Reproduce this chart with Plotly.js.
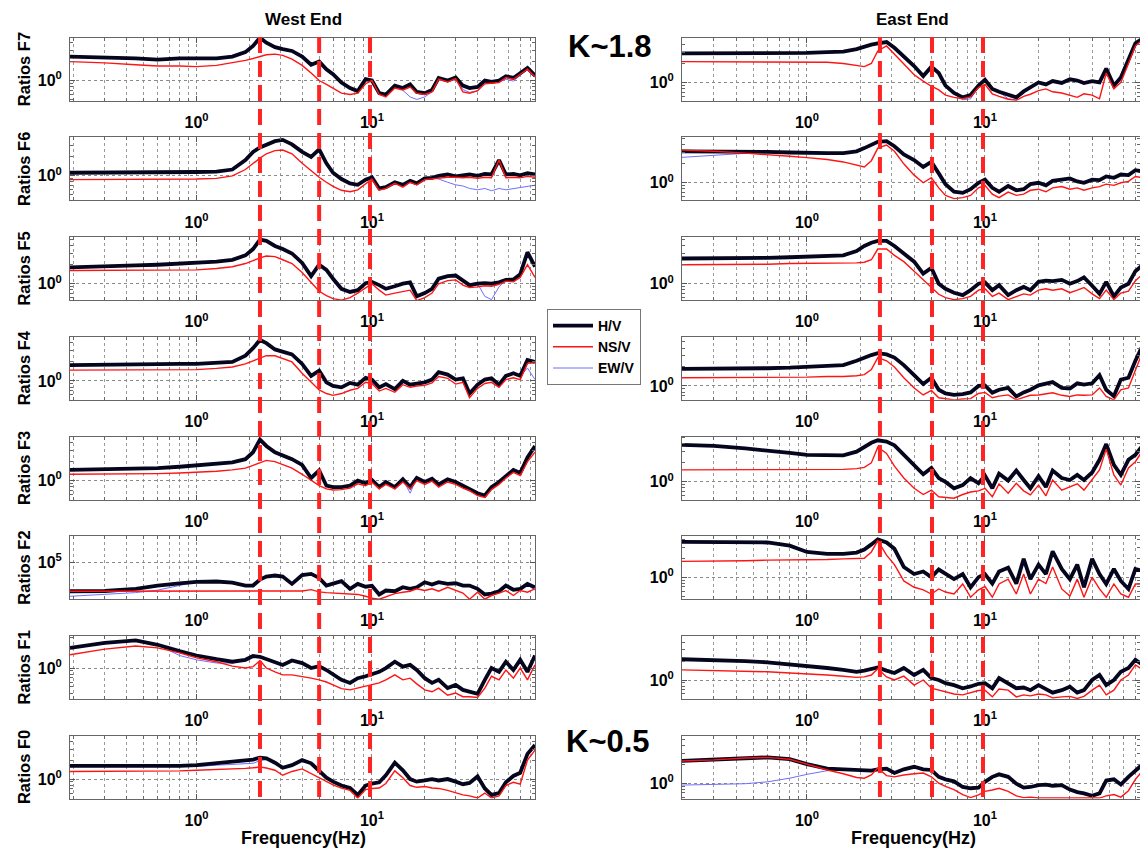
<!DOCTYPE html>
<html>
<head>
<meta charset="utf-8">
<script src="https://cdn.plot.ly/plotly-3.0.1.min.js"></script>
<style>html,body{margin:0;padding:0;background:#fff;}#chart{width:1140px;height:851px;}</style>
</head>
<body>
<div id="chart"></div>
<script>
// ---------------- DATA ----------------
const freq = [0.19,0.3,0.45,0.6,0.8,1.0,1.3,1.6,1.9,2.1,2.3,2.5,2.8,3.1,3.5,4.0,4.5,5.0,5.5,6.0,6.7,7.5,8.3,9.2,10,11,12,13.5,15,16.5,18,20,22,24,27,30,33,36,40,44,48,53,58,64,70,77,85];

const rowNames = ['F7','F6','F5','F4','F3','F2','F1','F0'];
const peakFreqWest = [2.3, 5.0, 9.75];
const peakFreqEast = [2.57, 5.04, 9.75];
const seriesNames = ['H/V','NS/V','EW/V'];
const xTickLabels = ['10<sup>0</sup>', '10<sup>1</sup>'];
const yTickLabel = '10<sup>0</sup>';
const yTickLabelF2 = '10<sup>5</sup>';

// West End
const westF7_hv = [2.40,2.34,2.24,2.14,2.24,2.24,2.24,2.40,2.82,3.55,4.79,3.98,3.39,3.16,2.95,2.40,1.78,2.00,1.51,1.26,0.93,0.76,0.68,1.05,1.00,0.63,0.60,0.83,0.76,0.87,0.66,0.63,0.71,1.10,1.00,1.12,0.83,0.76,0.79,1.00,0.95,1.00,1.17,1.10,1.32,1.58,1.20];
const westF7_ns = [2.00,1.91,1.78,1.70,1.70,1.66,1.74,1.91,2.09,2.24,2.40,2.57,2.63,2.51,2.19,1.74,1.32,1.00,0.87,0.76,0.63,0.60,0.63,0.89,1.00,0.60,0.55,0.76,0.71,0.79,0.63,0.60,0.66,1.05,0.95,1.07,0.66,0.63,0.69,0.89,0.91,0.93,1.12,1.05,1.26,1.51,1.15];
const westF7_ew = [2.40,2.34,2.24,2.14,2.24,2.24,2.24,2.40,2.82,3.55,4.68,3.98,3.39,3.16,2.95,2.40,1.78,2.00,1.51,1.26,0.93,0.76,0.68,1.05,1.00,0.63,0.60,0.83,0.70,0.55,0.50,0.55,0.66,1.07,0.98,1.10,0.72,0.65,0.68,0.95,0.91,0.95,1.05,0.98,1.20,1.50,1.12];

const westF6_hv = [1.12,1.12,1.12,1.12,1.12,1.15,1.17,1.26,1.78,2.40,2.82,3.16,3.55,3.72,3.16,2.40,2.00,2.63,1.58,1.12,0.89,0.76,0.72,0.87,0.95,0.63,0.66,0.79,0.72,0.83,0.76,0.91,0.93,1.00,1.05,0.98,1.02,1.05,1.00,1.07,1.05,1.78,1.05,1.07,1.02,1.10,1.05];
const westF6_ns = [0.87,0.87,0.87,0.87,0.87,0.89,0.91,1.00,1.26,1.58,1.91,2.24,2.51,2.57,2.24,1.58,1.20,0.95,0.79,0.68,0.59,0.56,0.60,0.76,0.89,0.59,0.63,0.76,0.66,0.79,0.72,0.87,0.89,0.93,0.95,0.95,0.93,0.95,0.91,0.95,0.93,1.78,0.93,0.95,0.93,0.98,0.95];
const westF6_ew = [1.12,1.12,1.12,1.12,1.12,1.15,1.17,1.26,1.78,2.40,2.82,3.16,3.55,3.72,3.16,2.40,2.00,2.63,1.58,1.12,0.89,0.76,0.72,0.87,0.95,0.63,0.66,0.79,0.72,0.83,0.76,0.91,0.93,0.89,0.79,0.72,0.69,0.63,0.60,0.63,0.58,0.63,0.60,0.63,0.66,0.69,0.71];

const westF5_hv = [1.82,1.86,1.95,2.00,2.09,2.14,2.24,2.40,2.82,3.55,5.01,4.79,3.98,3.55,3.02,2.14,1.32,2.00,1.66,1.20,0.83,0.74,0.79,1.02,1.07,0.95,0.83,0.91,1.00,1.05,0.63,0.71,0.83,1.20,1.32,1.35,1.12,0.95,1.00,1.02,1.00,1.05,1.15,1.17,1.41,3.16,1.86];
const westF5_ns = [1.62,1.62,1.62,1.62,1.62,1.66,1.74,1.86,2.09,2.34,2.57,2.75,2.69,2.40,2.09,1.51,1.05,0.76,0.65,0.58,0.55,0.60,0.71,0.87,1.00,0.79,0.66,0.71,0.76,0.79,0.54,0.60,0.71,1.00,1.12,1.15,0.95,0.87,0.89,0.93,0.91,0.98,1.10,1.07,1.26,2.00,1.26];
const westF5_ew = [1.82,1.86,1.95,2.00,2.09,2.14,2.24,2.40,2.82,3.55,5.01,4.79,3.98,3.55,3.02,2.14,1.32,2.00,1.66,1.20,0.83,0.74,0.79,1.02,1.07,0.95,0.83,0.91,1.00,1.05,0.63,0.71,0.83,1.20,1.32,1.35,1.12,0.87,1.00,0.63,0.56,0.89,1.15,1.17,1.41,3.16,1.86];

const westF4_hv = [1.78,1.82,1.82,1.82,1.86,1.86,1.91,2.00,2.51,3.31,4.47,3.98,3.16,2.95,2.63,1.86,1.20,1.45,0.95,0.83,0.79,0.93,0.87,1.12,1.05,0.79,0.89,0.74,1.00,0.87,0.91,0.95,1.05,1.38,1.26,1.05,1.10,0.63,0.87,1.05,1.10,0.87,1.20,1.32,1.20,2.14,2.00];
const westF4_ns = [1.48,1.48,1.48,1.48,1.48,1.51,1.58,1.66,1.86,2.09,2.29,2.51,2.51,2.29,2.00,1.32,0.95,0.72,0.63,0.59,0.63,0.71,0.76,0.95,0.91,0.69,0.76,0.66,0.87,0.79,0.83,0.85,0.93,1.17,1.10,0.89,0.95,0.54,0.76,0.91,0.95,0.79,1.05,1.12,1.05,1.90,1.95];
const westF4_ew = [1.78,1.82,1.82,1.82,1.86,1.86,1.91,2.00,2.51,3.31,4.47,3.98,3.16,2.95,2.63,1.86,1.20,1.45,0.95,0.83,0.79,0.93,0.87,1.12,1.05,0.79,0.89,0.74,1.00,0.87,0.91,0.95,1.05,1.38,1.26,1.05,1.10,0.63,0.87,1.05,1.10,0.87,1.20,1.32,1.20,1.60,1.05];

const westF3_hv = [1.48,1.51,1.55,1.58,1.66,1.74,1.86,1.95,2.19,2.82,4.47,3.55,2.82,2.51,2.19,1.78,1.10,1.45,0.83,0.79,0.79,0.83,1.00,0.91,1.02,0.79,0.95,0.79,1.05,0.79,1.10,0.95,1.07,0.87,1.05,0.95,0.83,0.76,0.63,0.58,0.79,0.95,1.20,1.48,1.32,2.34,3.55];
const westF3_ns = [1.26,1.26,1.29,1.29,1.32,1.35,1.41,1.48,1.58,1.74,1.91,2.09,2.00,1.82,1.58,1.26,1.00,0.83,0.74,0.71,0.72,0.76,0.89,0.83,0.95,0.74,0.87,0.74,0.95,0.74,1.00,0.87,0.98,0.79,0.95,0.87,0.76,0.69,0.58,0.54,0.72,0.87,1.10,1.35,1.20,2.00,2.82];
const westF3_ew = [1.48,1.51,1.55,1.58,1.66,1.74,1.86,1.95,2.19,2.82,4.47,3.55,2.82,2.51,2.19,1.78,1.10,1.45,0.83,0.79,0.79,0.83,1.00,0.91,1.02,0.79,0.95,0.79,1.05,0.63,1.10,0.95,1.07,0.87,1.05,0.95,0.83,0.70,0.63,0.58,0.79,0.95,1.20,1.48,1.32,2.34,3.55];

const westF2_hv = [2.0,2.2,5,17,40,70,78,50,17,17,160,500,740,500,32,900,1400,300,17,32,90,5,32,11,15,0.6,2.6,2,9,5,9,60,25,60,32,40,17,17,5,0.6,0.8,2,17,3.5,5,32,9];
const westF2_ns = [2.0,2.0,1.9,1.9,1.8,1.8,1.8,1.8,1.8,1.8,1.8,1.8,1.9,1.9,2.0,2.2,3.6,1.6,1.2,1.0,0.8,0.6,0.6,0.3,0.14,0.1,0.25,0.8,1.4,2,5,2.6,5,2,9,2.6,1.0,0.1,1.4,0.1,0.4,1.0,2.6,0.4,2.6,1.4,5];
const westF2_ew = [0.3,0.6,1.2,3,20,70,78,50,17,17,160,500,740,500,32,900,1400,300,17,32,90,5,32,11,15,0.6,2.6,2,9,5,9,60,25,60,32,40,17,17,5,0.6,0.8,2,17,3.5,5,20,3];

const westF1_hv = [2.09,2.51,2.75,2.34,1.86,1.58,1.38,1.26,1.35,1.55,1.51,1.38,1.26,1.12,1.32,1.20,1.00,1.07,0.93,0.78,0.65,0.58,0.69,0.74,0.79,0.87,1.00,1.26,1.05,1.12,0.93,0.69,0.58,0.65,0.48,0.54,0.45,0.42,0.39,0.65,1.00,0.87,1.26,0.93,1.35,0.87,1.58];
const westF1_ns = [1.62,2.00,2.24,2.09,1.74,1.45,1.26,1.07,1.00,1.05,1.32,1.00,0.87,0.78,0.78,0.74,0.69,0.65,0.60,0.54,0.47,0.45,0.48,0.51,0.54,0.58,0.65,0.78,0.65,0.69,0.56,0.45,0.42,0.48,0.37,0.40,0.35,0.35,0.34,0.48,0.74,0.65,0.93,0.69,1.00,0.65,1.12];
const westF1_ew = [2.09,2.51,2.75,2.34,1.58,1.35,1.20,1.20,1.35,1.55,1.51,1.38,1.26,1.12,1.32,1.20,1.00,1.07,0.93,0.78,0.65,0.58,0.69,0.74,0.79,0.87,1.00,1.26,1.05,1.12,0.93,0.69,0.58,0.65,0.48,0.54,0.45,0.42,0.39,0.65,1.00,0.87,1.26,0.93,1.35,0.87,1.58];

const westF0_hv = [1.62,1.62,1.58,1.58,1.62,1.66,1.78,1.86,1.95,2.04,2.19,2.14,1.82,1.51,1.66,2.00,1.78,1.38,1.05,0.91,0.79,0.72,0.56,0.79,0.85,0.89,1.15,1.82,1.38,1.00,0.91,0.95,1.00,0.95,1.00,0.91,0.83,0.87,1.10,0.71,0.56,0.60,0.89,1.12,1.26,2.51,3.47];
const westF0_ns = [1.32,1.32,1.32,1.32,1.35,1.38,1.41,1.45,1.48,1.51,1.55,1.50,1.38,1.15,1.32,1.45,1.23,1.07,0.91,0.81,0.72,0.66,0.50,0.68,0.71,0.72,0.85,1.35,1.05,0.79,0.74,0.76,0.72,0.71,0.66,0.60,0.56,0.54,0.50,0.60,0.50,0.54,0.79,0.89,0.83,2.00,2.88];
const westF0_ew = [1.62,1.62,1.58,1.58,1.58,1.58,1.66,1.70,1.74,1.78,1.95,2.04,1.78,1.51,1.66,2.00,1.78,1.38,1.05,0.89,0.76,0.70,0.56,0.79,0.85,0.89,1.15,1.82,1.38,1.00,0.91,0.95,1.00,0.95,1.00,0.91,0.83,0.87,1.10,0.69,0.52,0.60,0.89,1.12,1.26,2.40,3.31];

// East End
const eastF7_hv = [2.88,2.88,2.88,2.88,2.95,2.95,3.02,3.09,3.39,3.72,3.98,4.17,4.37,3.55,2.63,1.82,1.26,1.78,1.41,0.89,0.68,0.58,0.63,0.89,1.10,0.79,0.71,0.63,0.58,0.72,0.83,1.00,0.93,1.05,0.98,1.12,1.07,0.98,1.05,1.00,1.66,0.89,1.20,2.24,4.17,5.01,5.01];
const eastF7_ns = [2.14,2.14,2.14,2.14,2.14,2.09,2.09,2.00,1.86,1.78,2.00,3.16,3.80,2.82,2.00,1.32,1.05,0.87,0.76,0.63,0.58,0.55,0.59,0.83,0.93,0.66,0.60,0.54,0.52,0.60,0.65,0.74,0.79,0.71,0.68,0.63,0.58,0.66,0.63,0.55,1.41,0.79,1.00,2.00,3.80,4.79,4.79];
const eastF7_ew = [2.88,2.88,2.88,2.88,2.95,2.95,3.02,3.09,3.39,3.72,3.98,4.17,4.37,3.55,2.63,1.82,1.26,1.78,1.41,0.89,0.66,0.53,0.55,0.85,1.10,0.79,0.71,0.55,0.53,0.70,0.83,1.00,0.93,1.05,0.98,1.12,1.07,0.98,1.05,1.00,1.60,0.89,1.15,2.14,4.07,4.90,4.90];

const eastF6_hv = [3.16,3.16,3.16,3.09,3.02,2.95,2.95,2.95,3.16,3.55,3.98,4.47,4.57,3.80,2.82,2.29,1.78,2.14,1.41,0.95,0.72,0.69,0.79,1.00,1.12,0.83,0.72,0.89,0.76,0.79,0.95,1.00,0.91,1.07,1.12,1.17,1.05,1.00,1.12,1.10,1.26,1.20,1.35,1.32,1.58,1.51,1.58];
const eastF6_ns = [3.31,3.16,2.95,2.82,2.63,2.51,2.34,2.14,1.91,1.78,2.24,3.55,3.98,3.16,2.00,1.32,1.00,1.20,0.83,0.63,0.56,0.58,0.63,0.83,0.91,0.66,0.58,0.71,0.63,0.66,0.76,0.79,0.72,0.83,0.87,0.79,0.83,0.76,0.83,0.87,0.95,0.91,1.00,1.05,1.26,1.20,1.26];
const eastF6_ew = [2.51,2.75,2.95,3.09,3.02,2.95,2.95,2.95,3.16,3.55,3.98,4.47,4.57,3.80,2.82,2.29,1.78,2.14,1.41,0.95,0.72,0.69,0.79,1.00,1.12,0.83,0.72,0.89,0.76,0.79,0.95,1.00,0.91,1.07,1.12,1.17,1.05,1.00,1.12,1.10,1.26,1.20,1.35,1.32,1.58,1.51,1.58];

const eastF5_hv = [2.51,2.51,2.51,2.57,2.63,2.69,2.75,2.82,3.31,3.98,4.47,4.79,4.79,3.98,3.02,2.24,1.45,1.78,1.00,0.83,0.72,0.66,0.79,1.00,1.05,0.79,0.95,0.66,0.79,0.89,0.79,1.07,1.12,1.10,1.15,1.00,1.10,1.26,0.93,0.69,1.07,0.63,0.87,1.00,1.58,2.00,2.24];
const eastF5_ns = [2.00,2.00,2.04,2.04,2.09,2.09,2.14,2.14,2.14,2.19,2.40,3.55,3.55,2.82,2.24,1.58,1.15,0.89,0.68,0.60,0.56,0.58,0.63,0.79,0.83,0.63,0.71,0.56,0.63,0.69,0.66,0.79,0.83,0.79,0.83,0.72,0.79,0.87,0.69,0.58,0.79,0.56,0.71,0.76,1.12,1.41,1.58];
const eastF5_ew = [2.51,2.51,2.51,2.57,2.63,2.69,2.75,2.82,3.31,3.98,4.47,4.79,4.79,3.98,3.02,2.24,1.45,1.78,1.00,0.83,0.72,0.66,0.79,1.00,1.05,0.79,0.95,0.66,0.79,0.89,0.79,1.07,1.12,1.10,1.15,1.00,1.10,1.26,0.93,0.66,1.07,0.63,0.87,1.00,1.58,2.00,2.24];

const eastF4_hv = [1.86,1.86,1.86,1.91,1.95,2.00,2.04,2.14,2.51,2.82,3.09,3.31,3.16,2.82,2.14,1.48,1.07,1.35,0.87,0.76,0.72,0.74,0.79,1.00,1.02,0.78,0.87,0.93,0.68,0.79,0.87,1.02,1.07,1.15,0.93,0.91,1.10,1.05,1.10,1.48,0.87,0.69,1.26,1.35,2.51,4.47,5.75];
const eastF4_ns = [1.35,1.35,1.35,1.35,1.38,1.38,1.41,1.41,1.45,1.51,1.82,2.82,2.51,2.00,1.35,0.93,0.72,0.85,0.65,0.62,0.60,0.62,0.63,0.76,0.79,0.65,0.69,0.72,0.60,0.66,0.71,0.72,0.76,0.78,0.71,0.68,0.72,0.71,0.72,0.93,0.68,0.60,0.87,0.93,1.78,3.47,4.47];
const eastF4_ew = [1.86,1.86,1.86,1.91,1.95,2.00,2.04,2.14,2.51,2.82,3.09,3.31,3.16,2.82,2.14,1.48,1.07,1.35,0.87,0.76,0.72,0.74,0.79,1.00,1.02,0.78,0.87,0.93,0.68,0.79,0.87,1.02,1.07,1.15,0.93,0.91,1.10,1.05,1.10,1.48,0.87,0.69,1.26,1.35,2.51,4.47,5.75];

const eastF3_hv = [3.89,3.72,3.39,3.16,2.88,2.69,2.63,2.63,3.02,3.55,4.17,4.57,4.37,3.80,2.69,1.86,1.32,1.66,1.15,1.00,0.79,0.89,1.15,0.95,1.26,0.79,1.35,1.05,1.51,1.07,0.79,1.23,0.83,1.51,1.15,1.07,1.29,1.07,1.41,2.24,3.98,1.86,1.29,2.24,2.69,3.80,4.57];
const eastF3_ns = [1.55,1.55,1.55,1.55,1.55,1.55,1.58,1.58,1.62,1.70,2.00,3.55,2.82,1.78,1.15,0.79,0.63,0.74,0.58,0.56,0.55,0.63,0.69,0.72,0.79,0.58,0.93,0.66,0.95,0.72,0.62,0.89,0.60,1.07,0.74,0.83,0.93,0.74,1.07,1.55,3.31,1.29,0.89,1.66,2.09,3.16,3.80];
const eastF3_ew = [3.89,3.72,3.39,3.16,2.88,2.69,2.63,2.63,3.02,3.55,4.17,4.57,4.37,3.80,2.69,1.86,1.32,1.66,1.15,1.00,0.79,0.89,1.15,0.95,1.26,0.79,1.35,1.05,1.51,1.07,0.79,1.23,0.83,1.51,1.15,1.07,1.29,1.07,1.41,2.24,3.98,1.86,1.29,2.24,2.69,3.80,4.57];

const eastF2_hv = [3.63,3.63,3.63,3.55,3.16,2.51,2.34,2.34,2.45,2.75,3.31,3.98,3.55,2.82,1.45,1.12,1.23,1.00,1.32,1.12,0.93,1.12,0.69,1.00,1.12,0.79,1.23,1.41,0.79,1.95,0.93,1.58,1.12,2.57,1.35,0.93,1.58,0.69,1.95,1.12,0.78,1.35,0.87,0.65,1.35,1.26,1.12];
const eastF2_ns = [1.78,1.78,1.82,1.86,1.86,1.91,1.91,1.95,1.95,2.00,2.51,3.80,2.24,1.58,0.87,0.69,0.63,0.54,0.65,0.58,0.54,0.78,0.48,0.63,0.71,0.48,0.78,0.93,0.54,1.12,0.54,0.93,0.79,1.45,0.65,0.50,0.93,0.48,1.00,0.65,0.48,0.78,0.54,0.48,0.78,0.78,0.78];
const eastF2_ew = [3.63,3.63,3.63,3.55,3.16,2.51,2.34,2.34,2.45,2.75,3.31,3.98,3.55,2.82,1.45,1.12,1.23,1.00,1.32,1.12,0.93,1.12,0.69,1.00,1.12,0.79,1.23,1.41,0.79,1.95,0.93,1.58,1.12,2.57,1.35,0.93,1.58,0.69,1.95,1.12,0.78,1.35,0.87,0.65,1.35,1.26,1.12];

const eastF1_hv = [2.14,2.09,2.00,1.91,1.78,1.66,1.55,1.45,1.35,1.41,1.51,1.58,1.41,1.29,1.55,1.20,1.45,1.07,1.00,0.89,0.83,0.74,0.79,0.87,0.89,0.74,1.07,0.89,0.74,0.76,0.69,0.83,0.72,0.63,0.69,0.78,0.63,0.69,1.00,1.20,0.83,1.00,1.35,1.55,2.09,1.74,2.09];
const eastF1_ns = [1.45,1.41,1.38,1.35,1.29,1.26,1.20,1.15,1.10,1.12,1.20,1.51,1.12,1.00,1.15,0.83,1.00,0.74,0.69,0.65,0.60,0.58,0.62,0.68,0.69,0.54,0.72,0.69,0.54,0.58,0.56,0.60,0.58,0.52,0.54,0.55,0.51,0.55,0.69,0.83,0.58,0.69,1.00,1.20,1.74,1.45,1.74];
const eastF1_ew = [2.14,2.09,2.00,1.91,1.78,1.66,1.55,1.45,1.35,1.41,1.51,1.58,1.41,1.29,1.55,1.20,1.45,1.07,1.00,0.89,0.83,0.74,0.79,0.87,0.89,0.74,1.07,0.89,0.74,0.76,0.69,0.83,0.72,0.63,0.69,0.78,0.63,0.69,1.00,1.20,0.83,1.00,1.35,1.55,2.09,1.74,2.09];

const eastF0_hv = [2.24,2.34,2.51,2.57,2.40,2.00,1.70,1.66,1.62,1.62,1.58,1.66,1.70,1.45,1.66,1.82,1.66,1.62,1.26,1.15,1.07,0.87,0.83,0.85,1.05,1.26,1.38,1.26,0.98,0.85,0.87,0.93,0.95,0.91,0.93,0.79,0.72,0.69,0.63,0.69,1.10,1.15,0.95,1.26,1.58,2.00,2.24];
const eastF0_ns = [2.24,2.34,2.51,2.57,2.40,2.00,1.62,1.41,1.23,1.20,1.35,1.74,1.32,1.26,1.35,1.41,1.45,1.26,1.00,0.89,0.79,0.66,0.59,0.65,0.74,0.78,0.83,0.74,0.63,0.59,0.60,0.58,0.58,0.58,0.58,0.58,0.58,0.58,0.58,0.58,0.63,0.66,0.60,0.76,1.15,1.58,1.78];
const eastF0_ew = [0.93,0.95,0.98,1.05,1.20,1.38,1.58,1.66,1.62,1.62,1.58,1.66,1.70,1.45,1.66,1.82,1.66,1.62,1.26,1.15,1.07,0.87,0.83,0.85,1.05,1.26,1.38,1.26,0.98,0.85,0.87,0.93,0.95,0.91,0.93,0.79,0.72,0.69,0.63,0.69,1.10,1.15,0.95,1.26,1.58,2.00,2.24];

// ---------------- LAYOUT / DRAWING ----------------
const W = 1140, H = 851;
const FONT = 'Liberation Sans, Arial, Helvetica, sans-serif';

const west = [
  [westF7_hv, westF7_ns, westF7_ew], [westF6_hv, westF6_ns, westF6_ew],
  [westF5_hv, westF5_ns, westF5_ew], [westF4_hv, westF4_ns, westF4_ew],
  [westF3_hv, westF3_ns, westF3_ew], [westF2_hv, westF2_ns, westF2_ew],
  [westF1_hv, westF1_ns, westF1_ew], [westF0_hv, westF0_ns, westF0_ew]
];
const east = [
  [eastF7_hv, eastF7_ns, eastF7_ew], [eastF6_hv, eastF6_ns, eastF6_ew],
  [eastF5_hv, eastF5_ns, eastF5_ew], [eastF4_hv, eastF4_ns, eastF4_ew],
  [eastF3_hv, eastF3_ns, eastF3_ew], [eastF2_hv, eastF2_ns, eastF2_ew],
  [eastF1_hv, eastF1_ns, eastF1_ew], [eastF0_hv, eastF0_ns, eastF0_ew]
];

// visual y ranges (log10) per panel
const westYLo = [-0.32, -0.39, -0.26, -0.30, -0.30, null, -0.49, -0.31];
const eastYLo = [-0.29, -0.28, -0.26, -0.22, -0.28, -0.35, -0.30, -0.245];

const colDom = [[70/W, 535/W], [682/W, 1]];
const colRange = [[-0.7212, 1.9294], [-0.702, 1.871]];
function rowDomain(i) { const top = 37.7 + 99.7 * i; return [1 - (top + 63) / H, 1 - top / H]; }

const minorX = [0.2,0.3,0.4,0.5,0.6,0.7,0.8,0.9,2,3,4,5,6,7,8,9,20,30,40,50,60,70,80];
const minorY = [0.2,0.3,0.4,0.5,0.6,0.7,0.8,0.9,2,3,4,5,6,7,8,9];
const tickFont = {family: FONT, size: 16, color: '#000', weight: 'bold'};

const traces = [];
const layout = {
  width: W, height: H,
  margin: {l: 0, r: 0, t: 0, b: 0},
  paper_bgcolor: '#fff', plot_bgcolor: '#fff',
  showlegend: true,
  legend: {
    x: 547/W, y: 1 - 309/H, xanchor: 'left', yanchor: 'top',
    bgcolor: '#fff', bordercolor: '#777', borderwidth: 1,
    font: {family: FONT, size: 14, color: '#000', weight: 'bold'},
    tracegroupgap: 0, itemwidth: 40
  },
  shapes: [], annotations: []
};

for (let c = 0; c < 2; c++) {
  const data = c === 0 ? west : east;
  for (let i = 0; i < 8; i++) {
    const n = i * 2 + c + 1;
    const xa = 'x' + (n === 1 ? '' : n), ya = 'y' + (n === 1 ? '' : n);
    const xk = 'xaxis' + (n === 1 ? '' : n), yk = 'yaxis' + (n === 1 ? '' : n);
    const first = (n === 1);
    const [hv, ns, ew] = data[i];
    traces.push({x: freq, y: ew, xaxis: xa, yaxis: ya, type: 'scatter', mode: 'lines',
      name: seriesNames[2], legendrank: 3, showlegend: first,
      line: {color: '#6f6fff', width: 1}});
    traces.push({x: freq, y: hv, xaxis: xa, yaxis: ya, type: 'scatter', mode: 'lines',
      name: seriesNames[0], legendrank: 1, showlegend: first,
      line: {color: '#05051e', width: 3.8}});
    traces.push({x: freq, y: ns, xaxis: xa, yaxis: ya, type: 'scatter', mode: 'lines',
      name: seriesNames[1], legendrank: 2, showlegend: first,
      line: {color: '#ff1414', width: 1.4}});

    layout[xk] = {
      type: 'log', domain: colDom[c], range: colRange[c], anchor: ya,
      tickmode: 'array', tickvals: [1, 10], ticktext: xTickLabels,
      ticks: 'inside', ticklen: 5, tickcolor: '#555', tickwidth: 1,
      showline: true, linecolor: '#666', linewidth: 1, mirror: 'ticks',
      showgrid: true, gridcolor: '#8a8a8a', gridwidth: 1, griddash: 'dot',
      minor: {tickmode: 'array', tickvals: minorX, ticks: 'inside', ticklen: 3, tickcolor: '#666',
              showgrid: true, gridcolor: '#9a9a9a', gridwidth: 1, griddash: 'dot'},
      tickfont: tickFont, ticklabelstandoff: 7, zeroline: false, fixedrange: true
    };
    let yr, yt, ytt, ymin;
    if (c === 0 && i === 5) {
      yr = [-1, 9.3]; yt = [1e5]; ytt = [yTickLabelF2]; ymin = [];
    } else {
      const lo = (c === 0 ? westYLo : eastYLo)[i];
      yr = [lo, lo + 1]; yt = [1]; ytt = [yTickLabel]; ymin = minorY;
    }
    layout[yk] = {
      type: 'log', domain: rowDomain(i), range: yr, anchor: xa,
      tickmode: 'array', tickvals: yt, ticktext: ytt,
      ticks: 'inside', ticklen: 5, tickcolor: '#555',
      showline: true, linecolor: '#666', linewidth: 1, mirror: 'ticks',
      showgrid: true, gridcolor: '#8a8a8a', gridwidth: 1, griddash: 'dot',
      minor: {tickmode: 'array', tickvals: ymin, ticks: 'inside', ticklen: 3, tickcolor: '#666', showgrid: false},
      tickfont: tickFont, ticklabelstandoff: 4, zeroline: false, fixedrange: true
    };
    if (c === 0) {
      const d = rowDomain(i);
      layout.annotations.push({xref: 'paper', yref: 'paper', x: 24/W, y: (d[0] + d[1]) / 2,
        text: 'Ratios ' + rowNames[i], showarrow: false, textangle: -90,
        xanchor: 'center', yanchor: 'middle',
        font: {family: FONT, size: 16.5, color: '#000', weight: 'bold'}});
    }
  }
}

// dashed red vertical reference lines spanning all rows
const yTop = 1 - 37/H, yBot = 1 - 801/H;
peakFreqWest.forEach(f => layout.shapes.push({type: 'line', xref: 'x', yref: 'paper',
  x0: f, x1: f, y0: yTop, y1: yBot, layer: 'above',
  line: {color: '#ff2424', width: 4, dash: '16px,8px'}}));
peakFreqEast.forEach(f => layout.shapes.push({type: 'line', xref: 'x2', yref: 'paper',
  x0: f, x1: f, y0: yTop, y1: yBot, layer: 'above',
  line: {color: '#ff2424', width: 4, dash: '16px,8px'}}));

function ann(text, px, py, size) {
  layout.annotations.push({xref: 'paper', yref: 'paper', x: px / W, y: 1 - py / H,
    text: text, showarrow: false, xanchor: 'center', yanchor: 'middle',
    font: {family: FONT, size: size, color: '#000', weight: 'bold'}});
}
ann('West End', 303, 19, 17);
ann('East End', 912, 19, 17);
ann('K~1.8', 610, 46, 31);
ann('K~0.5', 608, 741, 31);
ann('Frequency(Hz)', 303, 838, 18);
ann('Frequency(Hz)', 913, 838, 18);

Plotly.newPlot('chart', traces, layout, {displayModeBar: false, staticPlot: true});
</script>
</body>
</html>
